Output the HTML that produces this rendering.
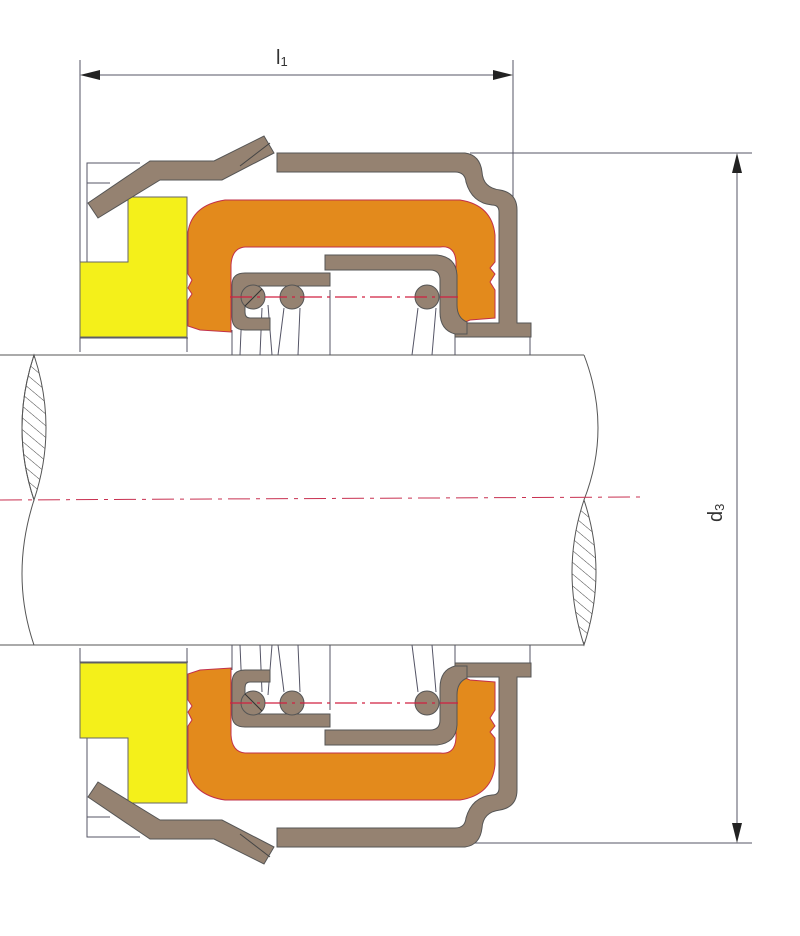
<!DOCTYPE html>
<html><head><meta charset="utf-8"><style>html,body{margin:0;padding:0;background:#fff;}svg{display:block}</style></head>
<body>
<svg width="800" height="936" viewBox="0 0 800 936" xmlns="http://www.w3.org/2000/svg">
<defs>
<pattern id="h" width="9" height="9" patternUnits="userSpaceOnUse" patternTransform="rotate(-50)">
<line x1="0" y1="0" x2="0" y2="9" stroke="#444" stroke-width="1"/>
</pattern>
<g id="half">
  <g fill="none" stroke="#556" stroke-width="1">
    <polyline points="87,262 87,163 140,163"/>
    <line x1="87" y1="183" x2="110" y2="183"/>
    <line x1="80" y1="338" x2="188" y2="338"/>
    <line x1="80" y1="352" x2="80" y2="337"/>
    <line x1="187" y1="337" x2="187" y2="352"/>
    <line x1="232" y1="330" x2="232" y2="355"/>
    <line x1="330" y1="290" x2="330" y2="355"/>
    <line x1="455" y1="335" x2="455" y2="355"/>
    <line x1="530" y1="335" x2="530" y2="355"/>
    <line x1="242" y1="308" x2="240" y2="355"/>
    <line x1="262" y1="308" x2="260" y2="355"/>
    <line x1="268" y1="305" x2="272" y2="355"/>
    <line x1="284" y1="308" x2="278" y2="355"/>
    <line x1="300" y1="308" x2="298" y2="355"/>
    <line x1="418" y1="308" x2="412" y2="355"/>
    <line x1="436" y1="308" x2="432" y2="355"/>
  </g>
  <path d="M128,197 H187 V337 H80 V262 H128 Z" fill="#f4f01a" stroke="#666" stroke-width="1"/>
  <path d="M188,232 Q192,205 225,200 L460,200 Q492,205 495,235 L495,262 L490,268 L495,274 L490,282 L495,290 L495,318 L470,320 L456,326 L456,262 Q455,245 440,247 L245,247 Q232,248 231,265 L231,332 L200,330 L188,326 L188,300 L192,294 L188,288 L192,280 L188,274 Z" fill="#e38a1c" stroke="#c2304a" stroke-width="1"/>
  <path d="M277,153 H465 Q480,155 482,172 Q483,188 500,190 Q517,193 517,210 V323 H531 V337 H455 V323 H499 V212 Q499,205 492,205 Q472,203 466,182 Q465,172 455,172 H277 Z" fill="#958271" stroke="#555" stroke-width="1"/>
  <path d="M88,203 L150,161 L214,161 L264,136 L274,153 L222,180 L160,180 L98,218 Z" fill="#958271" stroke="#555" stroke-width="1"/>
  <line x1="240" y1="166" x2="270" y2="143" stroke="#444" stroke-width="1"/>
  <path d="M325,255 H437 Q456,257 457,275 V305 Q457,318 467,322 V334 H455 Q440,330 440,312 V280 Q440,270 430,270 H325 Z" fill="#958271" stroke="#555" stroke-width="1"/>
  <path d="M330,273 V286 H250 Q245,286 245,292 V312 Q245,318 250,318 H270 V330 H245 Q232,330 232,317 V285 Q232,273 245,273 Z" fill="#958271" stroke="#555" stroke-width="1"/>
  <g fill="#958271" stroke="#555" stroke-width="1">
    <circle cx="253" cy="297" r="12"/>
    <circle cx="292" cy="297" r="12"/>
    <circle cx="427" cy="297" r="12"/>
  </g>
  <line x1="245" y1="306" x2="262" y2="289" stroke="#333" stroke-width="1"/>
  <line x1="230" y1="297" x2="458" y2="297" stroke="#d02040" stroke-width="1.2" stroke-dasharray="22,5,3,5"/>
</g>
</defs>

<g stroke="#556" stroke-width="1" fill="none">
  <line x1="80" y1="60" x2="80" y2="352"/>
  <line x1="513" y1="60" x2="513" y2="330"/>
  <line x1="84" y1="75" x2="509" y2="75"/>
  <line x1="470" y1="153" x2="752" y2="153"/>
  <line x1="470" y1="843" x2="752" y2="843"/>
  <line x1="737" y1="158" x2="737" y2="838"/>
</g>
<polygon points="80,75 100,70 100,80" fill="#222"/>
<polygon points="513,75 493,70 493,80" fill="#222"/>
<polygon points="737,153 732,173 742,173" fill="#222"/>
<polygon points="737,843 732,823 742,823" fill="#222"/>
<text x="276" y="64" font-family="Liberation Sans, sans-serif" font-size="20" fill="#333">l<tspan font-size="13" dy="2">1</tspan></text>
<text transform="translate(722,522) rotate(-90)" font-family="Liberation Sans, sans-serif" font-size="20" fill="#333">d<tspan font-size="13" dy="2">3</tspan></text>

<path d="M34,355 L584,355 Q612,400 584,500 Q561,560 584,645 L34,645 Q10,575 34,500 Q55,430 34,355 Z" fill="#fff" stroke="none"/>
<g stroke="#555" stroke-width="1" fill="none">
  <line x1="0" y1="355" x2="584" y2="355"/>
  <line x1="0" y1="645" x2="584" y2="645"/>
  <path d="M34,355 Q10,428 34,500 Q10,575 34,645"/>
  <path d="M584,355 Q612,428 584,500"/>
</g>
<path d="M34,355 Q10,428 34,500 Q58,428 34,355 Z" fill="url(#h)" stroke="#555" stroke-width="1"/>
<path d="M584,500 Q560,572 584,645 Q608,572 584,500 Z" fill="url(#h)" stroke="#555" stroke-width="1"/>
<line x1="0" y1="500" x2="640" y2="497" stroke="#c83050" stroke-width="1" stroke-dasharray="22,6,4,6"/>

<use href="#half"/>
<use href="#half" transform="translate(0,1000) scale(1,-1)"/>
</svg>
</body></html>
